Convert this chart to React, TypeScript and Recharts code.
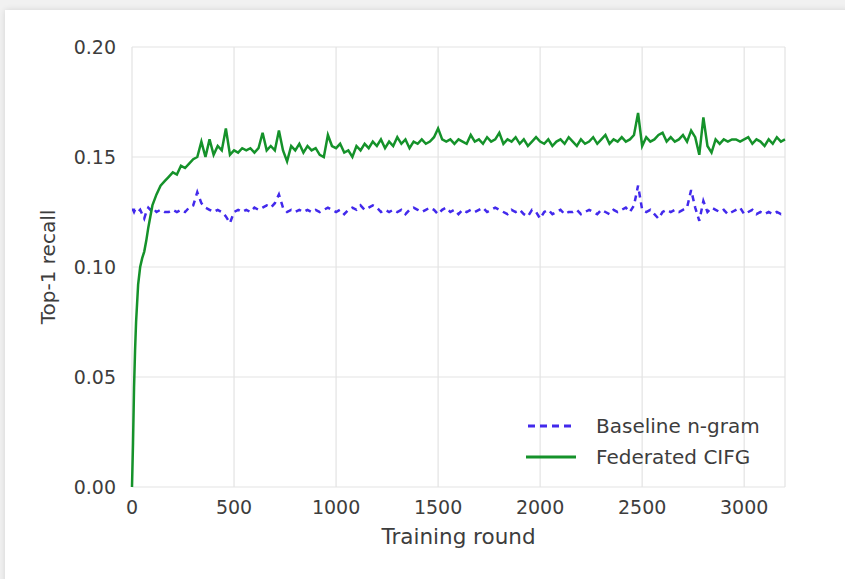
import React from 'react';
import { LineChart, Line, XAxis, YAxis, CartesianGrid, Legend, ReferenceLine } from 'recharts';

const rounds = [
  0, 5, 10, 15, 20, 30, 40, 50, 60, 70,
  80, 90, 100, 120, 140, 160, 180, 200, 220, 240,
  260, 280, 300, 320, 340, 360, 380, 400, 420, 440,
  460, 480, 500, 520, 540, 560, 580, 600, 620, 640,
  660, 680, 700, 720, 740, 760, 780, 800, 820, 840,
  860, 880, 900, 920, 940, 960, 980, 1000, 1020, 1040,
  1060, 1080, 1100, 1120, 1140, 1160, 1180, 1200, 1220, 1240,
  1260, 1280, 1300, 1320, 1340, 1360, 1380, 1400, 1420, 1440,
  1460, 1480, 1500, 1520, 1540, 1560, 1580, 1600, 1620, 1640,
  1660, 1680, 1700, 1720, 1740, 1760, 1780, 1800, 1820, 1840,
  1860, 1880, 1900, 1920, 1940, 1960, 1980, 2000, 2020, 2040,
  2060, 2080, 2100, 2120, 2140, 2160, 2180, 2200, 2220, 2240,
  2260, 2280, 2300, 2320, 2340, 2360, 2380, 2400, 2420, 2440,
  2460, 2480, 2500, 2520, 2540, 2560, 2580, 2600, 2620, 2640,
  2660, 2680, 2700, 2720, 2740, 2760, 2780, 2800, 2820, 2840,
  2860, 2880, 2900, 2920, 2940, 2960, 2980, 3000, 3020, 3040,
  3060, 3080, 3100, 3120, 3140, 3160, 3180, 3200,
];

const federatedCifg = [
  0, 0.02, 0.045, 0.062, 0.075, 0.092, 0.1, 0.104, 0.107, 0.112,
  0.118, 0.123, 0.128, 0.133, 0.137, 0.139, 0.141, 0.143, 0.142, 0.146,
  0.145, 0.147, 0.149, 0.15, 0.157, 0.15, 0.158, 0.151, 0.155, 0.153,
  0.163, 0.151, 0.153, 0.152, 0.154, 0.153, 0.154, 0.152, 0.154, 0.161,
  0.153, 0.155, 0.153, 0.162, 0.153, 0.148, 0.155, 0.153, 0.156, 0.152,
  0.155, 0.153, 0.154, 0.151, 0.15, 0.16, 0.155, 0.154, 0.156, 0.152,
  0.153, 0.15, 0.155, 0.153, 0.156, 0.154, 0.157, 0.155, 0.158, 0.154,
  0.157, 0.155, 0.159, 0.156, 0.158, 0.154, 0.157, 0.156, 0.158, 0.156,
  0.157, 0.159, 0.163, 0.158, 0.157, 0.158, 0.156, 0.158, 0.157, 0.156,
  0.16, 0.157, 0.158, 0.156, 0.159, 0.157, 0.158, 0.161, 0.156, 0.158,
  0.157, 0.159, 0.156, 0.158, 0.155, 0.157, 0.159, 0.157, 0.156, 0.158,
  0.155, 0.157, 0.158, 0.156, 0.159, 0.157, 0.155, 0.158, 0.156, 0.157,
  0.159, 0.156, 0.158, 0.16, 0.156, 0.158, 0.157, 0.159, 0.157, 0.158,
  0.16, 0.17, 0.155, 0.159, 0.157, 0.158, 0.16, 0.161, 0.157, 0.159,
  0.157, 0.158, 0.16, 0.157, 0.162, 0.159, 0.151, 0.168, 0.155, 0.152,
  0.158, 0.156, 0.158, 0.157, 0.158, 0.158, 0.157, 0.158, 0.159, 0.156,
  0.158, 0.157, 0.155, 0.158, 0.156, 0.159, 0.157, 0.158,
];

const baselineNgram = [
  0.126, 0.126, 0.125, 0.126, 0.126, 0.125, 0.126, 0.124, 0.122, 0.125,
  0.127, 0.126, 0.127, 0.125, 0.126, 0.125, 0.125, 0.126, 0.125, 0.126,
  0.125, 0.127, 0.128, 0.134, 0.129, 0.127, 0.126, 0.125, 0.126, 0.125,
  0.123, 0.12, 0.125, 0.126, 0.125, 0.126, 0.125, 0.127, 0.126, 0.127,
  0.128, 0.127, 0.129, 0.133, 0.127, 0.125, 0.126, 0.125, 0.126, 0.125,
  0.126, 0.125, 0.126, 0.125, 0.126, 0.127, 0.126, 0.125, 0.126, 0.124,
  0.126, 0.127, 0.126, 0.128, 0.126, 0.127, 0.128, 0.127, 0.125, 0.126,
  0.125, 0.126, 0.125, 0.126, 0.124, 0.126, 0.127, 0.126, 0.125, 0.126,
  0.127, 0.126, 0.124, 0.126, 0.127, 0.125, 0.126, 0.124, 0.126, 0.125,
  0.126, 0.125, 0.126, 0.127, 0.125, 0.126, 0.127, 0.126, 0.125, 0.124,
  0.126, 0.125, 0.126, 0.124, 0.123, 0.126, 0.125, 0.122, 0.125, 0.126,
  0.124, 0.125, 0.126, 0.124, 0.125, 0.125, 0.126, 0.124, 0.125, 0.126,
  0.125, 0.124, 0.126, 0.125, 0.124, 0.126, 0.125, 0.126, 0.127, 0.125,
  0.128, 0.137, 0.126, 0.125, 0.126, 0.124, 0.122, 0.125, 0.126, 0.125,
  0.126, 0.125, 0.126, 0.127, 0.135, 0.127, 0.121, 0.13, 0.125, 0.127,
  0.126, 0.125, 0.126, 0.124, 0.125, 0.126, 0.127, 0.124, 0.125, 0.126,
  0.124, 0.125, 0.124, 0.125, 0.124, 0.125, 0.124, 0.125,
];

const xTicks = [0, 500, 1000, 1500, 2000, 2500, 3000];
const yTicks = [0, 0.05, 0.1, 0.15, 0.2];
const seriesNames = ['Baseline n-gram', 'Federated CIFG'];

const data = rounds.map((r, i) => ({
  round: r,
  baseline: baselineNgram[i],
  federated: federatedCifg[i],
}));

const FONT = '"DejaVu Sans", sans-serif';
const BLUE = '#4229ec';
const GREEN = '#15922a';
const GRID = '#e3e3e3';
const TEXT = '#3d3d3d';

const renderLegend = () => (
  <div style={{ fontFamily: FONT, fontSize: 20, color: TEXT }}>
    <div style={{ display: 'flex', alignItems: 'center', height: 31 }}>
      <svg width={50} height={10}>
        <line x1={2} y1={5} x2={48} y2={5} stroke={BLUE} strokeWidth={2.8} strokeDasharray="7 5" />
      </svg>
      <span style={{ marginLeft: 20 }}>{seriesNames[0]}</span>
    </div>
    <div style={{ display: 'flex', alignItems: 'center', height: 31 }}>
      <svg width={50} height={10}>
        <line x1={0} y1={5} x2={50} y2={5} stroke={GREEN} strokeWidth={2.8} />
      </svg>
      <span style={{ marginLeft: 20 }}>{seriesNames[1]}</span>
    </div>
  </div>
);

export default function App() {
  return (
    <div style={{ position: 'absolute', left: 0, top: 0, width: 845, height: 579, background: '#f1f1f1', overflow: 'hidden' }}>
      <div style={{ position: 'absolute', left: 5, top: 10, width: 845, height: 579, background: '#ffffff', boxShadow: '0 0 6px rgba(0,0,0,0.12)' }} />
      <div style={{ position: 'absolute', left: 0, top: 0 }}>
        <LineChart width={845} height={579} data={data} margin={{ top: 47, right: 60, bottom: 32, left: 12 }}>
          <CartesianGrid stroke={GRID} strokeWidth={1.2} horizontalValues={yTicks} verticalValues={xTicks} />
          <ReferenceLine x={3200} stroke={GRID} strokeWidth={1.2} />
          <XAxis
            dataKey="round"
            type="number"
            domain={[0, 3200]}
            ticks={xTicks}
            axisLine={false}
            tickLine={false}
            tickSize={0}
            tickMargin={14}
            height={60}
            tick={{ fill: TEXT, fontSize: 19, fontFamily: FONT }}
            label={{ value: 'Training round', position: 'insideBottom', offset: 3, fill: TEXT, fontSize: 21.5, fontFamily: FONT }}
          />
          <YAxis
            type="number"
            domain={[0, 0.2]}
            ticks={yTicks}
            axisLine={false}
            tickLine={false}
            tickSize={0}
            tickMargin={16}
            width={120}
            tickFormatter={(v: number) => v.toFixed(2)}
            tick={{ fill: TEXT, fontSize: 19, fontFamily: FONT }}
            label={{ value: 'Top-1 recall', angle: -90, position: 'insideLeft', offset: 36, fill: TEXT, fontSize: 20, fontFamily: FONT, style: { textAnchor: 'middle' } }}
          />
          <Legend
            layout="vertical"
            align="center"
            verticalAlign="middle"
            content={renderLegend}
            wrapperStyle={{ left: 526, top: 410, width: 280, height: 62 }}
          />
          <Line
            type="linear"
            dataKey="baseline"
            name={seriesNames[0]}
            stroke={BLUE}
            strokeWidth={2.5}
            strokeDasharray="6 5"
            dot={false}
            isAnimationActive={false}
          />
          <Line
            type="linear"
            dataKey="federated"
            name={seriesNames[1]}
            stroke={GREEN}
            strokeWidth={2.5}
            dot={false}
            isAnimationActive={false}
          />
        </LineChart>
      </div>
    </div>
  );
}
